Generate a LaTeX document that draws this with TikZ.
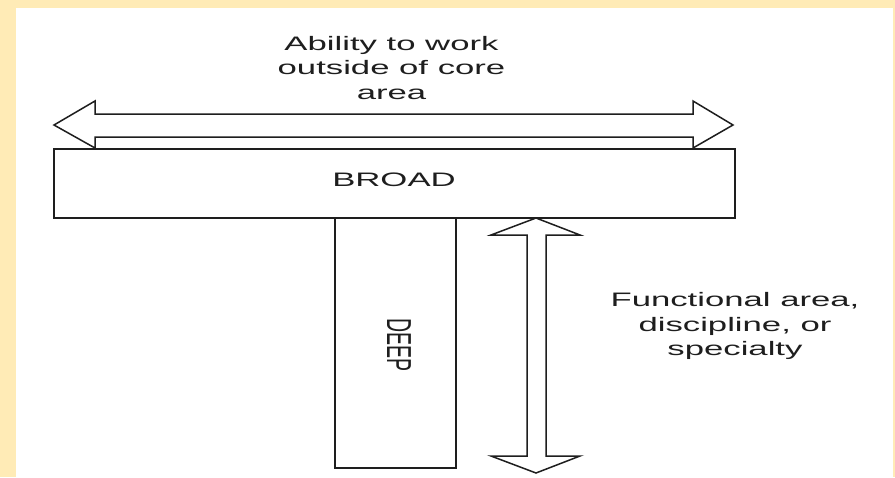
\documentclass[tikz,border=0pt]{standalone}
\usepackage{fontspec}
\setmainfont{Liberation Sans}
\definecolor{paper}{HTML}{FFEBB6}
\definecolor{ink}{HTML}{1E1E1E}
\tikzset{
  bar/.style={draw=ink, line width=1.5pt, fill=white},
  caption/.style={font=\fontsize{19.5}{24.5}\selectfont, text=ink, inner sep=0pt},
  wide/.style={caption, align=center, xscale=1.78},
}

\begin{document}
\begin{tikzpicture}[x=1pt, y=-1pt, line join=miter]
  % Frame
  \fill[paper] (0,0) rectangle (895,477);
  \fill[white] (16,8) rectangle (893,477);
  \useasboundingbox (0,0) rectangle (895,477);
  % Broad bar
  \draw[bar] (54,149) rectangle (735,218);
  \node[wide] (broad) at (394,180) {BROAD};
  % Sideways arrow
  \draw[bar] (54,125) -- (95,101) -- (95,114) -- (693,114) -- (693,101) -- (733,125)
    -- (693,148) -- (693,137) -- (95,137) -- (95,148) -- cycle;
  \node[wide] (ability) at (391.5,67.7) {Ability to work\\outside of core\\area};
  % Deep bar
  \draw[bar] (335,218) rectangle (456,468);
  \node[caption, rotate=-90, yscale=1.78] (deep) at (399,345) {DEEP};
  % Up-down arrow
  \draw[bar] (536,218) -- (580,235) -- (546,235) -- (546,456) -- (580,456) -- (536,473)
    -- (491,456) -- (527,456) -- (527,235) -- (491,235) -- cycle;
  \node[wide] (functional) at (735,326.3) {Functional area,\\discipline, or\\specialty};
\end{tikzpicture}
\end{document}
